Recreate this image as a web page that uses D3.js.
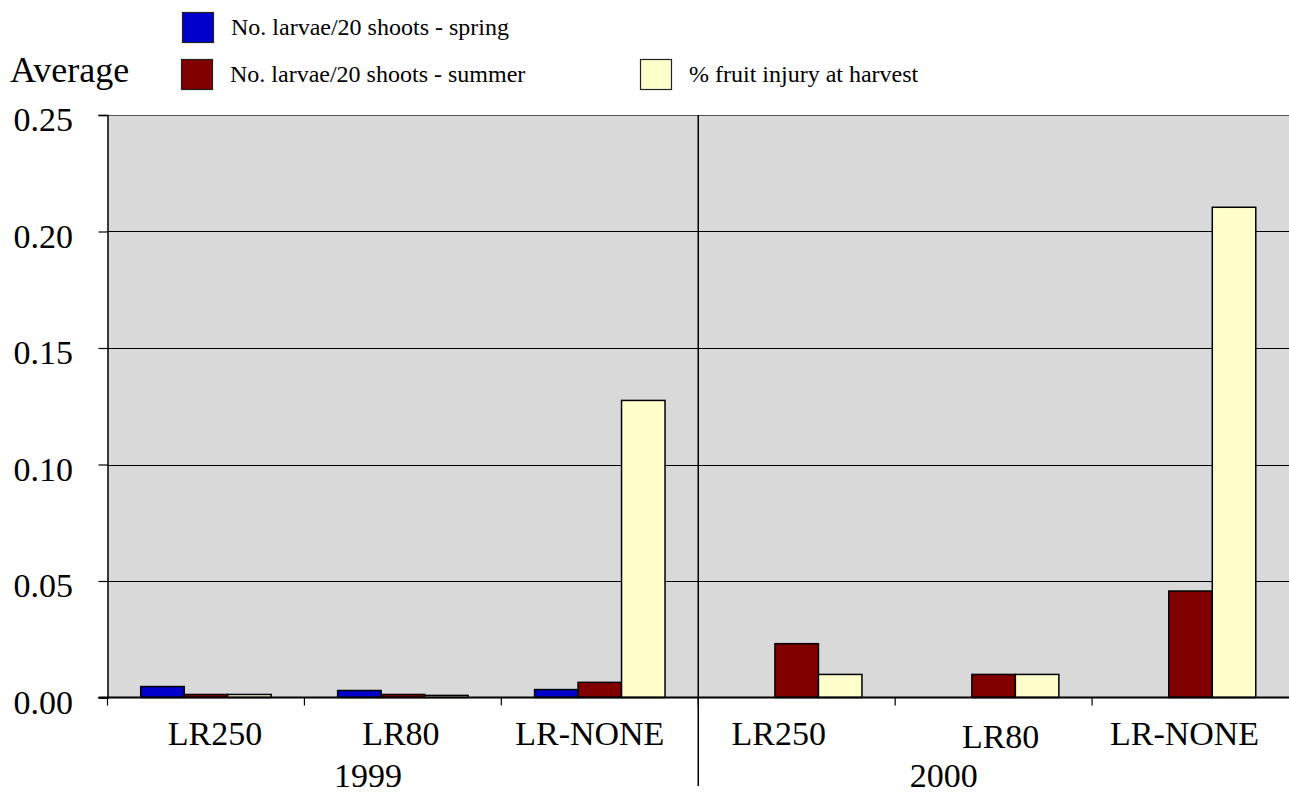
<!DOCTYPE html>
<html>
<head>
<meta charset="utf-8">
<script src="https://cdn.jsdelivr.net/npm/d3@7/dist/d3.min.js"></script>
<style>
  html, body { margin: 0; padding: 0; background: #ffffff; }
  svg { display: block; }
  text { font-family: "Liberation Serif", "Times New Roman", serif; fill: #000; }
</style>
</head>
<body>
<svg id="chart" width="1289" height="795"></svg>
<script>
// ---- data ----
const categories = ["LR250", "LR80", "LR-NONE", "LR250", "LR80", "LR-NONE"];
const years = ["1999", "2000"];
const seriesNames = ["No. larvae/20 shoots - spring", "No. larvae/20 shoots - summer", "% fruit injury at harvest"];
const spring = [0.0047, 0.0030, 0.0034, 0, 0, 0];
const summer = [0.0013, 0.0013, 0.0065, 0.0231, 0.0099, 0.0457];
const injury = [0.0013, 0.0009, 0.1275, 0.0099, 0.0099, 0.2104];
const yTicks = [0, 0.05, 0.10, 0.15, 0.20, 0.25];
const yTickLabels = ["0.00", "0.05", "0.10", "0.15", "0.20", "0.25"];
const yAxisTitle = "Average";

// ---- layout ----
const colors = ["#0000cc", "#800000", "#ffffcc"];
const plotL = 107.5, plotR = 1289, plotT = 115, plotB = 697.5;
const labelShift = [9, -2, -10, -18, 7, -6];
const labelDrop = [0, 0, 0, 0, 3, 0];
const yearShift = [-35, -50];

const svg = d3.select("#chart");
const series = [spring, summer, injury];

const x = d3.scaleBand().domain(d3.range(categories.length)).range([plotL, plotR]).paddingInner(0).paddingOuter(0);
const xs = d3.scaleBand().domain(d3.range(series.length)).range([0, x.bandwidth()]).paddingInner(0).paddingOuter(0.764);
const y = d3.scaleLinear().domain([0, 0.25]).range([plotB, plotT]);

// plot background
svg.append("rect").attr("x", plotL).attr("y", plotT).attr("width", plotR - plotL).attr("height", plotB - plotT)
  .attr("fill", "#d9d9d9");

// gridlines
svg.append("g").selectAll("line").data(yTicks.filter(d => d > 0)).join("line")
  .attr("x1", plotL).attr("x2", plotR)
  .attr("y1", d => Math.round(y(d)) + 0.5).attr("y2", d => Math.round(y(d)) + 0.5)
  .attr("stroke", d => d === 0.25 ? "#555" : "#000").attr("stroke-width", 1.2);

// bars
const gBars = svg.append("g");
series.forEach((vals, si) => {
  gBars.selectAll(null).data(vals.map((v, i) => ({ v, i })).filter(d => d.v > 0)).join("rect")
    .attr("x", d => x(d.i) + xs(si))
    .attr("y", d => y(d.v))
    .attr("width", xs.bandwidth())
    .attr("height", d => y(0) - y(d.v))
    .attr("fill", colors[si])
    .attr("stroke", "#000").attr("stroke-width", 1.5);
});

// y axis
const yAxis = d3.axisLeft(y).tickValues(yTicks).tickSize(9).tickFormat("");
const gy = svg.append("g").attr("transform", `translate(${plotL},0)`).call(yAxis);
gy.select(".domain").attr("stroke", "#000").attr("stroke-width", 1.5);
gy.selectAll(".tick line").attr("stroke", "#000").attr("stroke-width", 1.2);
svg.append("g").selectAll("text").data(yTicks).join("text")
  .attr("x", 73).attr("y", d => y(d) + 16)
  .attr("text-anchor", "end").attr("font-size", 34)
  .text((d, i) => yTickLabels[i]);

// x baseline and category ticks
svg.append("line").attr("x1", plotL - 9).attr("x2", plotR).attr("y1", plotB).attr("y2", plotB)
  .attr("stroke", "#000").attr("stroke-width", 2);
const boundaries = d3.range(categories.length).map(i => x(i));
svg.append("g").selectAll("line").data(boundaries).join("line")
  .attr("x1", d => d).attr("x2", d => d)
  .attr("y1", plotB).attr("y2", plotB + 8)
  .attr("stroke", "#000").attr("stroke-width", 1.2);

// year divider
const divX = x(3);
svg.append("line").attr("x1", divX).attr("x2", divX).attr("y1", plotT).attr("y2", 786)
  .attr("stroke", "#000").attr("stroke-width", 1.5);

// category labels
svg.append("g").selectAll("text").data(categories).join("text")
  .attr("x", (d, i) => x(i) + x.bandwidth() / 2 + labelShift[i])
  .attr("y", (d, i) => 745 + labelDrop[i])
  .attr("text-anchor", "middle").attr("font-size", 34)
  .text(d => d);

// year labels
svg.append("g").selectAll("text").data(years).join("text")
  .attr("x", (d, i) => (x(i * 3) + x(i * 3 + 2) + x.bandwidth()) / 2 + yearShift[i])
  .attr("y", 787)
  .attr("text-anchor", "middle").attr("font-size", 34)
  .text(d => d);

// axis title
svg.append("text").attr("x", 10).attr("y", 82).attr("font-size", 36).text(yAxisTitle);

// legend
const legendPos = [[182, 12], [181, 59], [640, 59]];
const lg = svg.append("g");
seriesNames.forEach((name, i) => {
  const [lx, ly] = legendPos[i];
  lg.append("rect").attr("x", lx + 0.5).attr("y", ly + 0.5).attr("width", 31).attr("height", 30)
    .attr("fill", colors[i]).attr("stroke", "#222").attr("stroke-width", 1.2);
  lg.append("text").attr("x", lx + 49).attr("y", ly + 23).attr("font-size", 24).text(name);
});
</script>
</body>
</html>
